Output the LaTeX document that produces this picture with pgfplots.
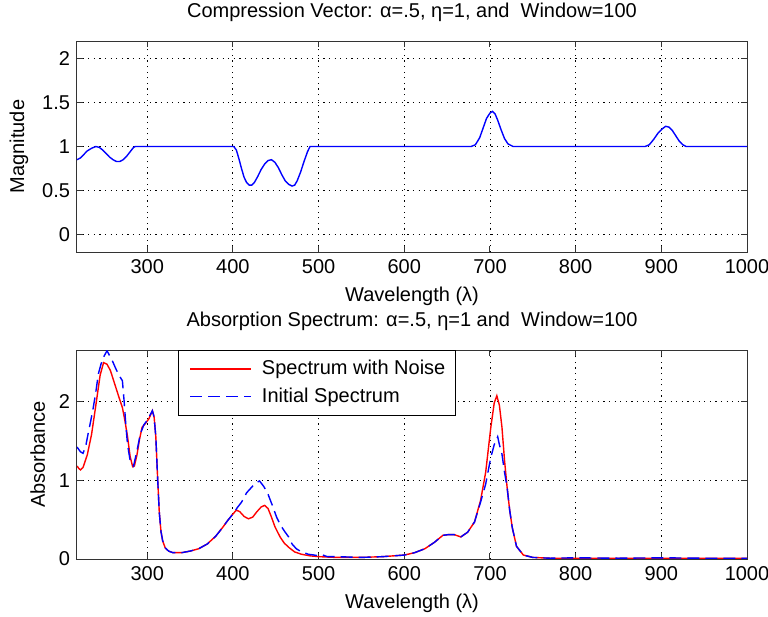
\documentclass[border=0pt]{standalone}
\usepackage{fontspec}
\setmainfont{Liberation Sans}
\usepackage{pgfplots}
\pgfplotsset{compat=1.18}
\begin{document}
\begin{tikzpicture}
\useasboundingbox (-38.5pt,-182.5pt) rectangle (345.5pt,126pt);
\pgfplotsset{
  mystyle/.style={
    scale only axis, width=335pt,
    xmin=218, xmax=1000,
    xtick={300,400,...,1000},
    grid=major,
    major grid style={black, line width=0.45pt, dash pattern=on 0.6pt off 2.2pt},
    axis line style={line width=0.5pt, black!80},
    tick style={black!80, line width=0.5pt},
    major tick length=3pt,
    tick align=inside,
    /pgf/number format/assume math mode=true,
    /pgf/number format/set thousands separator={},
    tick label style={font=\normalsize},
    label style={font=\normalsize},
    xlabel={Wavelength (λ)},
    title style={font=\normalsize},
  }
}
\begin{axis}[mystyle, name=top, at={(0,0)}, anchor=south west, height=105.5pt,
  ymin=-0.2, ymax=2.2, ytick={0,0.5,1,1.5,2}, ylabel={Magnitude},
  title={Compression Vector: α=.5, η=1, and\ \ Window=100}]
\addplot[draw=blue, line width=0.7pt] coordinates {
(218,0.85) (222,0.87) (226,0.91) (230,0.95) (235,0.98) (240,1.00) (244,0.99)
(248,0.96) (252,0.92) (256,0.88) (260,0.85) (264,0.83) (268,0.83) (272,0.85)
(276,0.89) (280,0.94) (284,0.99) (286,1.00) (401,1.00) (404,0.96) (407,0.86)
(410,0.75) (413,0.65) (416,0.59) (419,0.56) (422,0.56) (425,0.59) (429,0.66)
(433,0.74) (437,0.80) (441,0.84) (445,0.85) (449,0.82) (453,0.76) (457,0.68)
(461,0.61) (465,0.57) (469,0.55) (472,0.56) (475,0.61) (479,0.71) (483,0.83)
(487,0.94) (490,1.00) (678,1.00) (683,1.02) (688,1.10) (692,1.21) (696,1.32)
(700,1.38) (703,1.40) (706,1.37) (709,1.30) (713,1.19) (717,1.09) (721,1.03)
(727,1.00) (881,1.00) (886,1.02) (891,1.08) (896,1.15) (901,1.20) (905,1.23)
(909,1.22) (913,1.18) (917,1.12) (921,1.06) (925,1.02) (929,1.00) (1000,1.00)
};
\end{axis}
\begin{axis}[mystyle, at={(0,-49pt)}, anchor=north west, height=104.5pt,
  ymin=0, ymax=2.65, ytick={0,1,2}, ylabel={Absorbance},
  title={Absorption Spectrum: α=.5, η=1 and\ \ Window=100},
  legend style={at={(0.151,1)}, anchor=north west,
    font=\normalsize, row sep=1pt, inner sep=3pt},
  legend cell align=left,
  legend image code/.code={\path (0pt,0pt); \draw[#1, line width=0.8pt] (2.5pt,0pt) -- (33pt,0pt); \path (36pt,0pt);}]
\addplot[color=red, line width=0.7pt] coordinates {
(218,1.18) (220,1.15) (222,1.13) (225,1.16) (230,1.32) (235,1.58) (240,1.95)
(245,2.33) (249,2.49) (253,2.47) (257,2.39) (262,2.22) (267,2.05) (271,1.92)
(274,1.75) (277,1.55) (280,1.30) (283,1.17) (285,1.18) (288,1.32) (291,1.52)
(294,1.67) (298,1.72) (302,1.78) (306,1.88) (308,1.80) (310,1.55) (312,1.05)
(314,0.60) (316,0.35) (318,0.23) (321,0.14) (325,0.10) (330,0.08) (340,0.08)
(350,0.10) (360,0.13) (370,0.19) (380,0.29) (388,0.40) (394,0.49) (400,0.57)
(404,0.62) (408,0.60) (413,0.54) (418,0.51) (423,0.53) (428,0.60) (433,0.66)
(437,0.68) (441,0.64) (445,0.53) (449,0.41) (455,0.28) (460,0.20) (466,0.14)
(472,0.09) (480,0.06) (490,0.04) (500,0.03) (520,0.02) (550,0.02) (575,0.03)
(600,0.05) (612,0.08) (624,0.13) (635,0.21) (645,0.30) (652,0.31) (658,0.31)
(666,0.28) (674,0.34) (682,0.47) (689,0.74) (695,1.10) (701,1.67) (705,1.98)
(708,2.07) (711,1.95) (714,1.67) (717,1.25) (720,0.91) (723,0.62) (726,0.40)
(731,0.16) (739,0.05) (750,0.02) (770,0.01) (800,0.01) (850,0.01) (900,0.01)
(950,0.01) (1000,0.01)
};
\addlegendentry{Spectrum with Noise}
\addplot[color=blue, line width=0.7pt, dash pattern=on 6pt off 3pt] coordinates {
(218,1.42) (222,1.36) (225,1.34) (228,1.42) (231,1.59) (234,1.75) (237,1.92)
(240,2.12) (243,2.35) (246,2.47) (249,2.56) (253,2.64) (256,2.58) (259,2.52)
(263,2.42) (267,2.33) (271,2.26) (273,2.00) (275,1.70) (277,1.45) (280,1.25)
(284,1.18) (288,1.37) (292,1.59) (296,1.70) (300,1.76) (306,1.88) (308,1.80)
(310,1.55) (312,1.05) (314,0.60) (316,0.35) (318,0.23) (321,0.14) (325,0.10)
(330,0.08) (340,0.08) (350,0.10) (360,0.13) (370,0.19) (380,0.29) (388,0.40)
(394,0.49) (400,0.57) (405,0.65) (410,0.72) (416,0.84) (421,0.90) (426,0.96)
(431,0.99) (436,0.92) (441,0.82) (446,0.68) (451,0.53) (456,0.42) (461,0.34)
(465,0.28) (469,0.19) (474,0.13) (480,0.09) (488,0.06) (495,0.05) (500,0.04)
(505,0.05) (510,0.03) (520,0.03) (550,0.02) (575,0.03) (600,0.05) (612,0.08)
(624,0.13) (635,0.21) (645,0.30) (652,0.31) (658,0.31) (666,0.28) (674,0.34)
(682,0.47) (689,0.72) (695,0.95) (701,1.29) (705,1.45) (709,1.55) (711,1.45)
(714,1.33) (717,1.10) (720,0.91) (723,0.62) (726,0.40) (731,0.16) (739,0.05)
(750,0.02) (770,0.01) (800,0.015) (850,0.01) (900,0.015) (950,0.01) (1000,0.01)
};
\addlegendentry{Initial Spectrum}
\end{axis}
\end{tikzpicture}
\end{document}
